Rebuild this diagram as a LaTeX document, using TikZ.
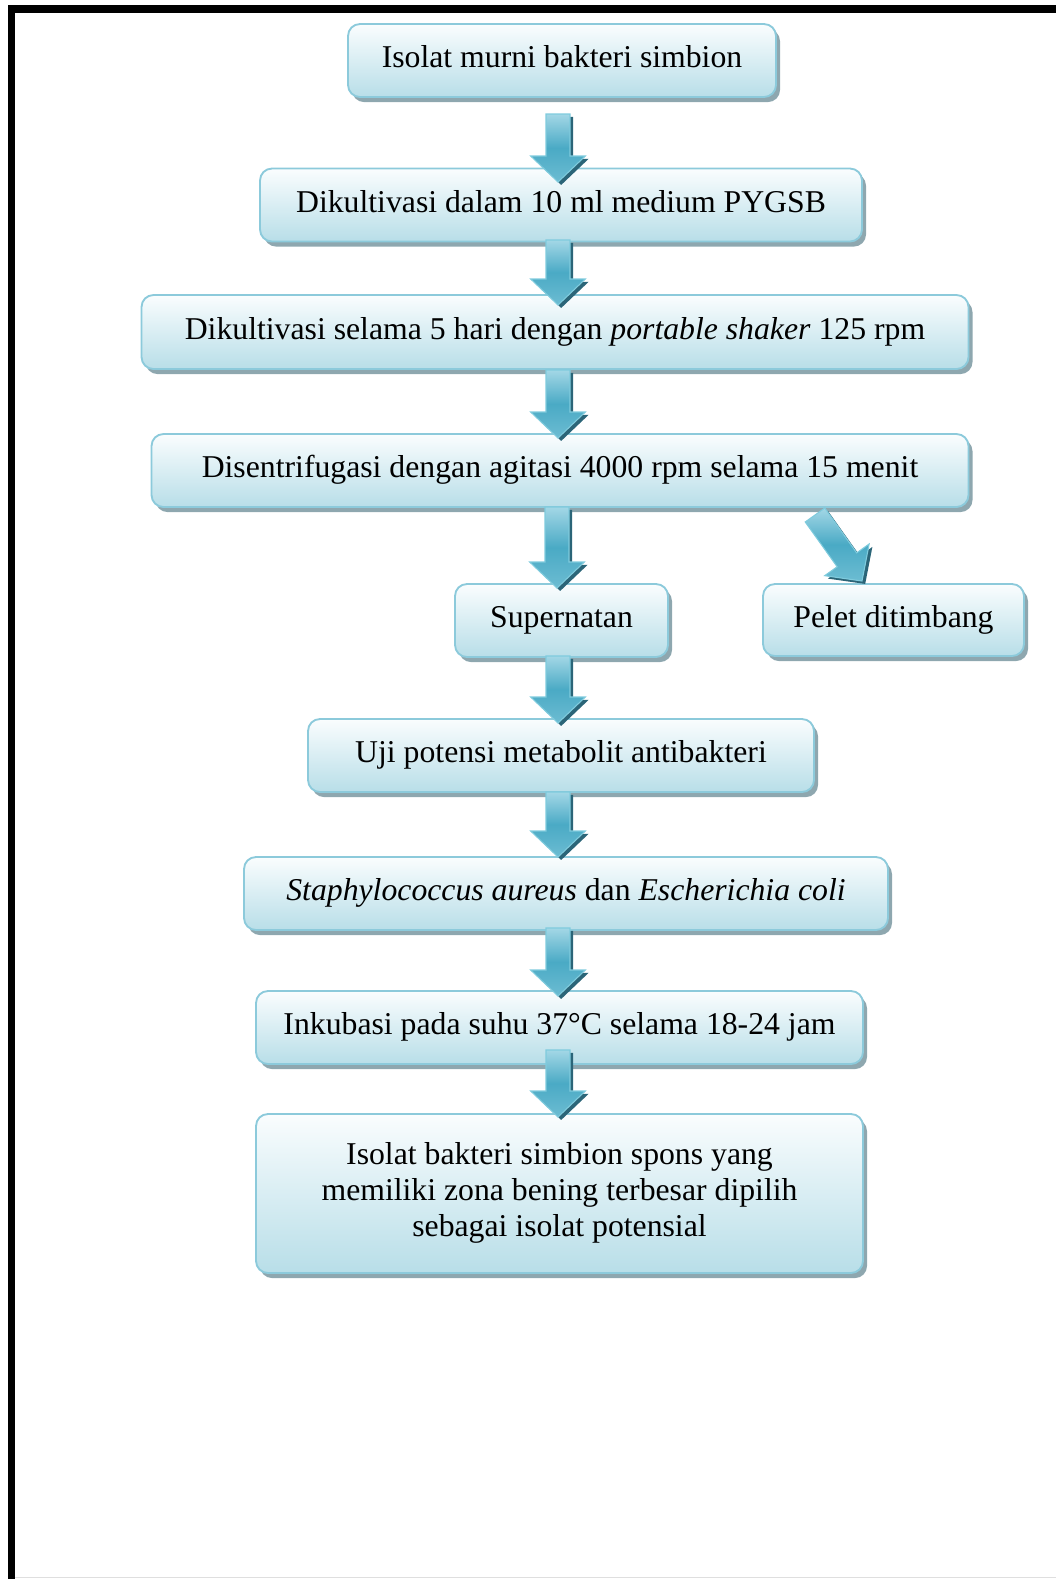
\documentclass[tikz,border=0pt]{standalone}
\usepackage{fontspec}
\setmainfont{Liberation Serif}
\usetikzlibrary{calc,shadows}
\definecolor{boxline}{HTML}{8CCADB}
\definecolor{boxbot}{HTML}{B8DEE8}
\definecolor{boxtop}{HTML}{FAFDFE}
\definecolor{shadowc}{HTML}{8EA7AF}
\definecolor{arrtop}{HTML}{A3D7E6}
\definecolor{arrmid}{HTML}{4AAAC5}
\definecolor{arrbot}{HTML}{6CBCD2}
\definecolor{arrdark}{HTML}{2B6578}
\definecolor{arrline}{HTML}{7FCBDD}
\tikzset{
  boxbase/.style={rounded corners=9pt, draw=boxline, line width=1.4pt,
    top color=boxtop, bottom color=boxbot, inner sep=0pt, align=center,
    font=\fontsize{23.8}{27}\selectfont,
    drop shadow={shadow xshift=3pt, shadow yshift=-3.8pt, fill=shadowc, opacity=1}},
  box/.style={boxbase, text height=17pt, text depth=6.5pt},
  arrbody/.style={draw=arrline, line width=0.8pt, top color=arrtop, bottom color=arrbot, middle color=arrmid},
  arrshade/.style={fill=arrdark}
}
\newcommand\blockarrow[2]{%
  \coordinate (bh) at ($(#2)!19.5pt!(#1)$);
  \fill[arrshade, transform canvas={shift={(2.4pt,-2.2pt)}}]
    ($(#1)!9pt!90:(#2)$) -- ($(bh)!9pt!90:(#2)$) -- ($(bh)!20.5pt!90:(#2)$) -- (#2)
    -- ($(bh)!20.5pt!-90:(#2)$) -- ($(bh)!9pt!-90:(#2)$) -- ($(#1)!9pt!-90:(#2)$) -- cycle;
  \path[arrbody]
    ($(#1)!9pt!90:(#2)$) -- ($(bh)!9pt!90:(#2)$) -- ($(bh)!20.5pt!90:(#2)$) -- (#2)
    -- ($(bh)!20.5pt!-90:(#2)$) -- ($(bh)!9pt!-90:(#2)$) -- ($(#1)!9pt!-90:(#2)$) -- cycle;
}
\begin{document}
\begin{tikzpicture}[x=0.75pt,y=-0.75pt]
\useasboundingbox (0,0) rectangle (1056,1579);
% frame
\fill[black] (8,5) rectangle (1056,13);
\fill[black] (8,5) rectangle (15,1579);
\draw[gray!25, line width=0.75pt] (15,1577.5) -- (1056,1577.5);

% boxes
\node[box, minimum width=428*0.75pt, minimum height=73*0.75pt] (n1) at (562,60.5) {Isolat murni bakteri simbion};
\node[box, minimum width=602*0.75pt, minimum height=73*0.75pt] (n2) at (561,205) {Dikultivasi dalam 10 ml medium PYGSB};
\node[box, minimum width=827*0.75pt, minimum height=74*0.75pt] (n3) at (555,332) {Dikultivasi selama 5 hari dengan \textit{portable shaker} 125 rpm};
\node[box, minimum width=817*0.75pt, minimum height=73*0.75pt] (n4) at (560,470.5) {Disentrifugasi dengan agitasi 4000 rpm selama 15 menit};
\node[box, minimum width=213*0.75pt, minimum height=73*0.75pt] (n5) at (561.5,620.5) {Supernatan};
\node[box, minimum width=261*0.75pt, minimum height=72*0.75pt] (n6) at (893.5,620) {Pelet ditimbang};
\node[box, minimum width=506*0.75pt, minimum height=73*0.75pt] (n7) at (561,755.5) {Uji potensi metabolit antibakteri};
\node[box, minimum width=644*0.75pt, minimum height=73*0.75pt] (n8) at (566,893.5) {\textit{Staphylococcus aureus} dan \textit{Escherichia coli}};
\node[box, minimum width=607*0.75pt, minimum height=73*0.75pt] (n9) at (559.5,1027.5) {Inkubasi pada suhu 37°C selama 18-24 jam};
\node[boxbase, minimum width=607*0.75pt, minimum height=159*0.75pt] (n10) at (559.5,1193.5) {\raisebox{1.8pt}{\begin{tabular}{@{}c@{}}Isolat bakteri simbion spons yang\\memiliki zona bening terbesar dipilih\\sebagai isolat potensial\end{tabular}}};

% arrow end points
\coordinate (a1s) at (558,114);  \coordinate (a1e) at (558,182);
\coordinate (a2s) at (558,240);  \coordinate (a2e) at (558,305);
\coordinate (a3s) at (558,370);  \coordinate (a3e) at (558,438);
\coordinate (a4s) at (557,507);  \coordinate (a4e) at (557,588);
\coordinate (a5s) at (558,656);  \coordinate (a5e) at (558,723);
\coordinate (a6s) at (558,792);  \coordinate (a6e) at (558,857);
\coordinate (a7s) at (558,928);  \coordinate (a7e) at (558,996);
\coordinate (a8s) at (558,1050); \coordinate (a8e) at (558,1117);
\coordinate (d1s) at (815,515);  \coordinate (d1e) at (862,581);

\blockarrow{a1s}{a1e}
\blockarrow{a2s}{a2e}
\blockarrow{a3s}{a3e}
\blockarrow{a4s}{a4e}
\blockarrow{d1s}{d1e}
\blockarrow{a5s}{a5e}
\blockarrow{a6s}{a6e}
\blockarrow{a7s}{a7e}
\blockarrow{a8s}{a8e}
\end{tikzpicture}
\end{document}
